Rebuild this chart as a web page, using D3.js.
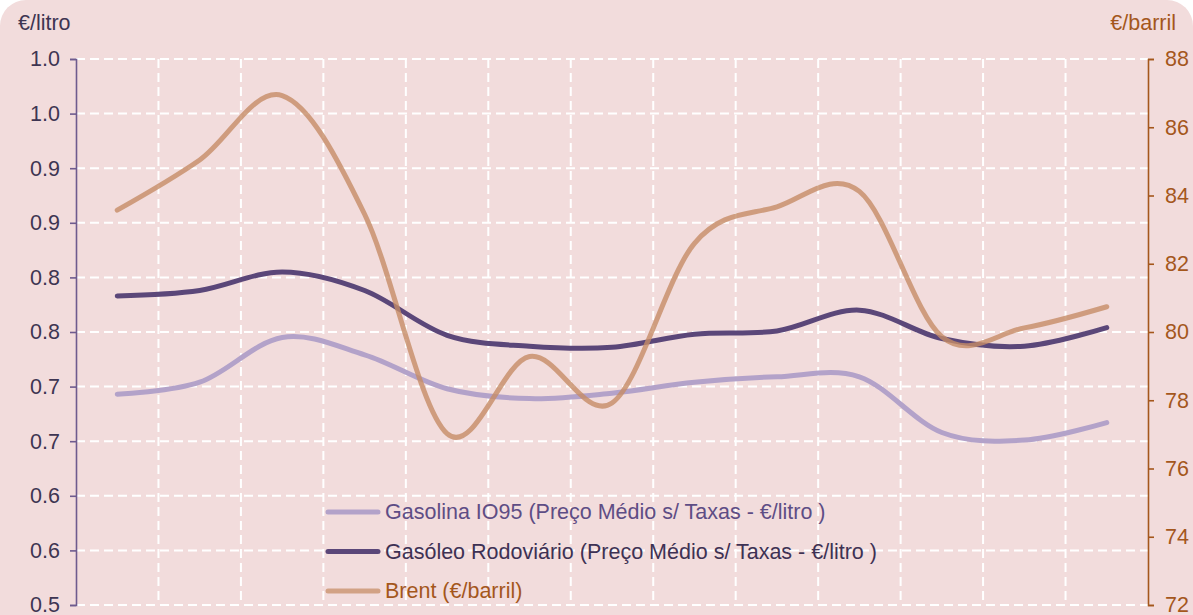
<!DOCTYPE html>
<html>
<head>
<meta charset="utf-8">
<script src="https://cdn.jsdelivr.net/npm/d3@7"></script>
<style>
  html, body { margin: 0; padding: 0; background: #ffffff; }
  #chart svg { display: block; font-family: "Liberation Sans", Arial, sans-serif; }
</style>
</head>
<body>
<div id="chart"></div>
<script>
// Data (13 periods, no x labels shown)
const periods = ["P1", "P2", "P3", "P4", "P5", "P6", "P7", "P8", "P9", "P10", "P11", "P12", "P13"];
const gasolina = [0.693, 0.704, 0.745, 0.729, 0.698, 0.689, 0.694, 0.704, 0.709, 0.709, 0.658, 0.651, 0.667];
const gasoleo = [0.783, 0.788, 0.805, 0.788, 0.747, 0.737, 0.736, 0.748, 0.751, 0.770, 0.744, 0.737, 0.754];
const brent = [83.57, 85.04, 86.93, 83.45, 77.02, 79.28, 77.92, 82.6, 83.67, 84.12, 79.86, 80.12, 80.74];

const leftTicks = [0.5, 0.55, 0.6, 0.65, 0.7, 0.75, 0.8, 0.85, 0.9, 0.95, 1.0];
const leftTickLabels = ["0.5", "0.6", "0.6", "0.7", "0.7", "0.8", "0.8", "0.9", "0.9", "1.0", "1.0"];
const rightTicks = [72, 74, 76, 78, 80, 82, 84, 86, 88];

const seriesNames = [
    "Gasolina IO95 (Preço Médio s/ Taxas - €/litro )",
    "Gasóleo Rodoviário (Preço Médio s/ Taxas - €/litro )",
    "Brent (€/barril)"
];

document.addEventListener('DOMContentLoaded', function () {
    const W = 1193, H = 615;
    const margin = { top: 59, right: 45, bottom: 10, left: 76 };
    const width = W - margin.left - margin.right;
    const height = H - margin.top - margin.bottom;
    const fs = "21.5px";

    const colGasolina = "#b3a2c9";
    const colGasoleo = "#5b4779";
    const colBrent = "#c58c66";
    const colLeftAxis = "#6e5b8e";
    const colRightAxis = "#a4571c";

    const svg = d3.select("#chart")
        .append("svg")
        .attr("width", W)
        .attr("height", H);

    // Rounded pink background
    svg.append("rect")
        .attr("x", 0).attr("y", 0)
        .attr("width", W).attr("height", H + 30)
        .attr("rx", 26).attr("ry", 26)
        .attr("fill", "#f2dcdc");

    const g = svg.append("g")
        .attr("transform", `translate(${margin.left},${margin.top})`);

    // Scales
    const x = d3.scaleBand()
        .domain(periods)
        .range([0, width]);

    const yL = d3.scaleLinear()
        .domain([0.5, 1.0])
        .range([height, 0]);

    const yR = d3.scaleLinear()
        .domain([72, 88])
        .range([height, 0]);

    // Grid
    const grid = g.append("g").attr("class", "grid");
    grid.selectAll(".hgrid")
        .data(leftTicks)
        .enter()
        .append("line")
        .attr("x1", 0).attr("x2", width)
        .attr("y1", d => yL(d)).attr("y2", d => yL(d))
        .attr("stroke", "#ffffff")
        .attr("stroke-width", 2)
        .attr("stroke-dasharray", "9,5");

    grid.selectAll(".vgrid")
        .data(periods.slice(1))
        .enter()
        .append("line")
        .attr("x1", d => x(d)).attr("x2", d => x(d))
        .attr("y1", 0).attr("y2", height)
        .attr("stroke", "#ffffff")
        .attr("stroke-width", 2)
        .attr("stroke-dasharray", "9,5");

    // Left axis
    const axL = g.append("g")
        .call(d3.axisLeft(yL)
            .tickValues(leftTicks)
            .tickFormat((d, i) => leftTickLabels[i])
            .tickSize(6)
            .tickSizeOuter(6)
            .tickPadding(10));
    axL.select(".domain").attr("stroke", colLeftAxis).attr("stroke-width", 1.6);
    axL.selectAll(".tick line").attr("stroke", colLeftAxis).attr("stroke-width", 1.6);
    axL.selectAll(".tick text")
        .attr("fill", "#3e3552")
        .style("font-size", fs);

    // Right axis
    const axR = g.append("g")
        .attr("transform", `translate(${width},0)`)
        .call(d3.axisRight(yR)
            .tickValues(rightTicks)
            .tickSize(6)
            .tickSizeOuter(6)
            .tickPadding(11));
    axR.select(".domain").attr("stroke", colRightAxis).attr("stroke-width", 1.6);
    axR.selectAll(".tick line").attr("stroke", colRightAxis).attr("stroke-width", 1.6);
    axR.selectAll(".tick text")
        .attr("fill", colRightAxis)
        .style("font-size", fs);

    // Axis titles
    svg.append("text")
        .attr("x", 18).attr("y", 30)
        .attr("fill", "#3e3552")
        .style("font-size", fs)
        .text("€/litro");

    svg.append("text")
        .attr("x", 1176).attr("y", 30)
        .attr("text-anchor", "end")
        .attr("fill", colRightAxis)
        .style("font-size", fs)
        .text("€/barril");

    // Lines
    const cx = d => x(d) + x.bandwidth() / 2;

    const lineL = d3.line()
        .x((d, i) => cx(periods[i]))
        .y(d => yL(d))
        .curve(d3.curveCardinal.tension(0));

    const lineR = d3.line()
        .x((d, i) => cx(periods[i]))
        .y(d => yR(d))
        .curve(d3.curveCardinal.tension(0));

    g.append("path")
        .datum(gasolina)
        .attr("d", lineL)
        .attr("fill", "none")
        .attr("stroke", colGasolina)
        .attr("stroke-width", 5)
        .attr("stroke-linecap", "round");

    g.append("path")
        .datum(gasoleo)
        .attr("d", lineL)
        .attr("fill", "none")
        .attr("stroke", colGasoleo)
        .attr("stroke-width", 5)
        .attr("stroke-linecap", "round");

    g.append("path")
        .datum(brent)
        .attr("d", lineR)
        .attr("fill", "none")
        .attr("stroke", colBrent)
        .attr("stroke-opacity", 0.8)
        .attr("stroke-width", 5)
        .attr("stroke-linecap", "round");

    // Legend
    const legendColors = [colGasolina, colGasoleo, "#d2a285"];
    const legendText = ["#5e4d85", "#3e3254", colRightAxis];
    const legend = svg.append("g")
        .attr("transform", "translate(328,512)");

    const item = legend.selectAll(".item")
        .data(seriesNames)
        .enter()
        .append("g")
        .attr("transform", (d, i) => `translate(0,${i * 39.5})`);

    item.append("line")
        .attr("x1", 0).attr("x2", 50)
        .attr("y1", 0).attr("y2", 0)
        .attr("stroke", (d, i) => legendColors[i])
        .attr("stroke-width", 5)
        .attr("stroke-linecap", "round");

    item.append("text")
        .attr("x", 57).attr("y", 7)
        .attr("fill", (d, i) => legendText[i])
        .style("font-size", fs)
        .text(d => d);
});
</script>
</body>
</html>
